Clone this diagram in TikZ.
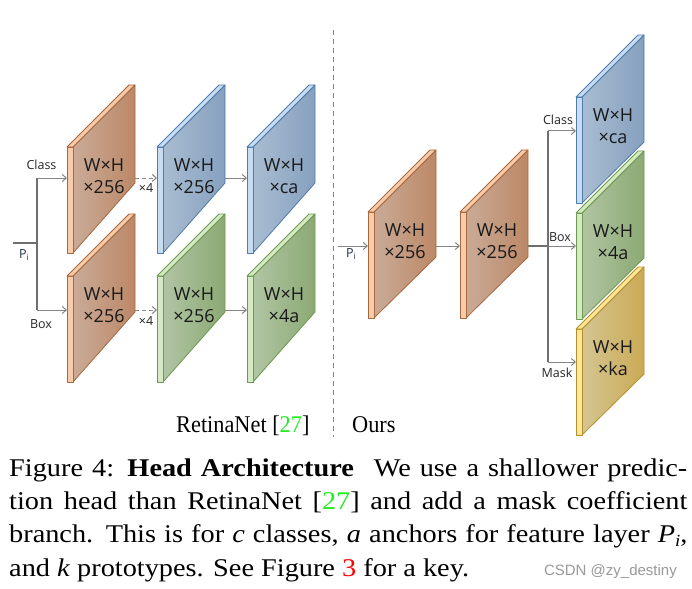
\documentclass[tikz,border=0pt]{standalone}
\usepackage{fontspec}
\usepackage{graphicx}
\setmainfont{Liberation Serif}
\newfontfamily\osans{Open Sans}
\newfontfamily\wmfont{Liberation Sans}
\usetikzlibrary{arrows.meta}
\definecolor{orL}{HTML}{CAAB97}
\definecolor{orR}{HTML}{BC8867}
\definecolor{orT}{HTML}{F8CBAA}
\definecolor{orD}{HTML}{A8673D}
\definecolor{blL}{HTML}{A9BDD1}
\definecolor{blR}{HTML}{86A0BF}
\definecolor{blT}{HTML}{C8DDF2}
\definecolor{blD}{HTML}{4F7BAD}
\definecolor{grL}{HTML}{B1C5A3}
\definecolor{grR}{HTML}{8CA974}
\definecolor{grT}{HTML}{D6EAC6}
\definecolor{grD}{HTML}{6D9950}
\definecolor{yeL}{HTML}{D5C592}
\definecolor{yeR}{HTML}{CAAA55}
\definecolor{yeT}{HTML}{FFE699}
\definecolor{yeD}{HTML}{B48F2A}
\definecolor{lineDark}{HTML}{6F6F6F}
\definecolor{lineGrey}{HTML}{858585}
\definecolor{citegreen}{HTML}{22EE22}
\definecolor{navy}{HTML}{1F2F50}
\newcommand\slab[7]{%
  \shadedraw[left color=#5L, right color=#5R, draw=#5D, line width=0.8pt, line join=round]
    ({#2+6},{#3}) -- ({#2+6},{#3-106}) -- ({#2+68},{#3-168}) -- ({#2+68},{#3-#4}) -- cycle;
  \filldraw[fill=#5T, draw=#5D, line width=0.8pt, line join=round] (#2,#3) rectangle ({#2+6},{#3-106});
  \filldraw[fill=#5T, draw=#5D, line width=0.8pt, line join=round]
    (#2,{#3-106}) -- ({#2+62},{#3-168}) -- ({#2+68},{#3-168}) -- ({#2+6},{#3-106}) -- cycle;
  \node[blocktext] (#1) at ({#2+37},{#3-77}) {#6\\#7};
}
\tikzset{
  blocktext/.style={font=\osans\fontsize{18}{21.5}\selectfont, align=center, inner sep=0pt, text=black!90},
  lab/.style={font=\osans\fontsize{12.5}{14}\selectfont, inner sep=0pt, text=black!85},
  arr/.style={draw=lineGrey, line width=1pt, -{Straight Barb[length=4pt,width=7pt]}},
  darr/.style={arr, dash pattern=on 4pt off 3pt},
  trunk/.style={draw=lineDark, line width=2pt},
  captxt/.style={font=\fontsize{25.5}{30}\selectfont, inner sep=0pt, anchor=base west},
}
\newcommand\pisub{P\raisebox{-2pt}{\fontsize{8.5}{9}\selectfont i}}
\begin{document}
\begin{tikzpicture}[x=1pt,y=-1pt]
\fill[white] (0,0) rectangle (692,588);
\useasboundingbox (0,0) rectangle (692,588);

% separator
\coordinate (sepT) at (333,30);
\coordinate (sepB) at (333,437);
\draw[lineGrey, line width=1pt, dash pattern=on 5pt off 4pt] (sepT) -- (sepB);

% ---------- RetinaNet ----------
\slab{o1}{67}{253}{70}{or}{W×H}{×256}
\slab{b1}{157}{253}{70}{bl}{W×H}{×256}
\slab{b2}{247}{253}{70}{bl}{W×H}{×ca}
\slab{o2}{67}{382}{70}{or}{W×H}{×256}
\slab{g1}{157}{382}{70}{gr}{W×H}{×256}
\slab{g2}{247}{382}{70}{gr}{W×H}{×4a}

\coordinate (pL) at (13,243);
\coordinate (jL) at (37,243);
\coordinate (jLc) at (37,178);
\coordinate (jLb) at (37,310);
\coordinate (o1in) at (67,178);
\coordinate (o2in) at (67,310);
\coordinate (o1out) at (135,178);
\coordinate (b1in) at (157,178);
\coordinate (b1out) at (225,178);
\coordinate (b2in) at (247,178);
\coordinate (o2out) at (135,310);
\coordinate (g1in) at (157,310);
\coordinate (g1out) at (225,310);
\coordinate (g2in) at (247,310);

\draw[trunk] (pL) -- (jL);
\draw[trunk] (jLc) -- (jLb);
\draw[arr] (jLc) -- (o1in);
\draw[arr] (jLb) -- (o2in);
\draw[darr] (o1out) -- (b1in);
\draw[darr] (o2out) -- (g1in);
\draw[arr] (b1out) -- (b2in);
\draw[arr] (g1out) -- (g2in);

\node[lab] (clsL) at (41.5,165) {Class};
\node[lab] (boxL) at (41,324) {Box};
\node[lab, text=navy] (piL) at (24,255) {\pisub};
\node[lab] (x4a) at (146,188) {×4};
\node[lab] (x4b) at (146,321) {×4};

% ---------- Ours ----------
\slab{o3}{368}{318}{61}{or}{W×H}{×256}
\slab{o4}{460}{318}{61}{or}{W×H}{×256}
\slab{b3}{576}{203}{61}{bl}{W×H}{×ca}
\slab{g3}{576}{319}{61}{gr}{W×H}{×4a}
\slab{y3}{576}{435}{61}{ye}{W×H}{×ka}

\coordinate (pR) at (338,246);
\coordinate (o3in) at (368,246);
\coordinate (o3out) at (436,246);
\coordinate (o4in) at (460,246);
\coordinate (o4out) at (528,246);
\coordinate (jR) at (548,246);
\coordinate (jRc) at (548,131);
\coordinate (jRm) at (548,362);
\coordinate (b3in) at (576,131);
\coordinate (g3in) at (576,246);
\coordinate (y3in) at (576,362);

\draw[arr] (pR) -- (o3in);
\draw[arr] (o3out) -- (o4in);
\draw[trunk] (o4out) -- (jR);
\draw[trunk] (jRc) -- (jRm);
\draw[arr] (jRc) -- (b3in);
\draw[arr] (jR) -- (g3in);
\draw[arr] (jRm) -- (y3in);

\node[lab, text=navy] (piR) at (351,254) {\pisub};
\node[lab] (clsR) at (558,120) {Class};
\node[lab] (boxR) at (560,237) {Box};
\node[lab] (maskR) at (557,373) {Mask};

% ---------- titles ----------
\node[anchor=base west, inner sep=0pt, font=\fontsize{24}{28}\selectfont] (rn) at (176,432)
  {\scalebox{0.93}[1]{RetinaNet [\textcolor{citegreen}{27}]}};
\node[anchor=base west, inner sep=0pt, font=\fontsize{24}{28}\selectfont] (ours) at (352,432)
  {\scalebox{0.93}[1]{Ours}};

% ---------- caption ----------
\node[captxt] (c1) at (9,476) {\scalebox{1.11}[1]{\makebox[611pt][s]{Figure 4: \textbf{Head Architecture}\hskip0.7em We use a shallower predic-}}};
\node[captxt] (c2) at (9,509) {\scalebox{1.11}[1]{\makebox[611pt][s]{tion head than RetinaNet [\textcolor{citegreen}{27}] and add a mask coefficient}}};
\node[captxt] (c3) at (9,542) {\scalebox{1.11}[1]{\makebox[611pt][s]{branch. This is for \textit{c} classes, \textit{a} anchors for feature layer \textit{P}\raisebox{-4pt}{\fontsize{17}{18}\selectfont\textit{i}},}}};
\node[captxt] (c4) at (9,576) {\scalebox{1.11}[1]{and \textit{k} prototypes. See Figure \textcolor{red}{3} for a key.}};
\node[anchor=base east, inner sep=0pt, font=\wmfont\fontsize{15}{18}\selectfont, text=black!40] (wm) at (677,575) {CSDN @zy\_destiny};
\end{tikzpicture}
\end{document}
